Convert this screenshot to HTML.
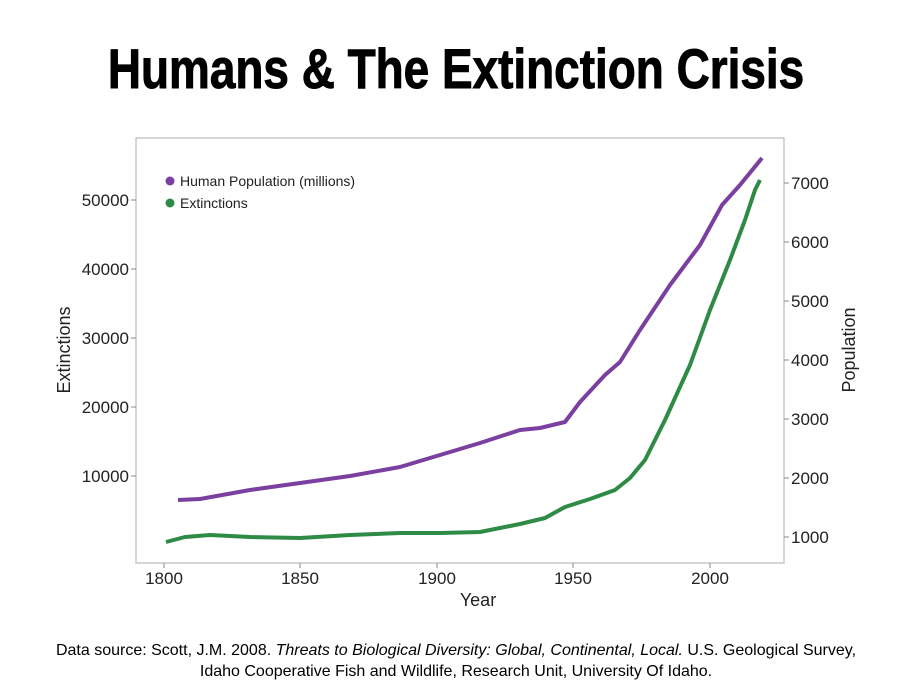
<!DOCTYPE html><html><head><style>body{margin:0;background:#fff;width:913px;height:690px;overflow:hidden}</style></head><body>
<svg width="913" height="690" xmlns="http://www.w3.org/2000/svg" font-family="Liberation Sans, sans-serif">
<text x="456" y="88" text-anchor="middle" font-size="56" font-weight="bold" transform="translate(456,0) scale(0.82,1) translate(-456,0)" fill="#000" stroke="#000" stroke-width="1">Humans &amp; The Extinction Crisis</text>
<rect x="136" y="138" width="648" height="425" fill="none" stroke="#bbb" stroke-width="1.2"/>
<g font-size="17" fill="#222" text-anchor="end">
<line x1="131" y1="200" x2="136" y2="200" stroke="#888"/><text x="129" y="206">50000</text>
<line x1="131" y1="269" x2="136" y2="269" stroke="#888"/><text x="129" y="275">40000</text>
<line x1="131" y1="338" x2="136" y2="338" stroke="#888"/><text x="129" y="344">30000</text>
<line x1="131" y1="407" x2="136" y2="407" stroke="#888"/><text x="129" y="413">20000</text>
<line x1="131" y1="476" x2="136" y2="476" stroke="#888"/><text x="129" y="482">10000</text>
</g>
<g font-size="17" fill="#222">
<line x1="784" y1="183" x2="789" y2="183" stroke="#888"/><text x="791" y="189">7000</text>
<line x1="784" y1="242" x2="789" y2="242" stroke="#888"/><text x="791" y="248">6000</text>
<line x1="784" y1="301" x2="789" y2="301" stroke="#888"/><text x="791" y="307">5000</text>
<line x1="784" y1="360" x2="789" y2="360" stroke="#888"/><text x="791" y="366">4000</text>
<line x1="784" y1="419" x2="789" y2="419" stroke="#888"/><text x="791" y="425">3000</text>
<line x1="784" y1="478" x2="789" y2="478" stroke="#888"/><text x="791" y="484">2000</text>
<line x1="784" y1="537" x2="789" y2="537" stroke="#888"/><text x="791" y="543">1000</text>
</g>
<g font-size="17" fill="#222" text-anchor="middle">
<line x1="164" y1="563" x2="164" y2="568" stroke="#888"/><text x="164" y="584">1800</text>
<line x1="300" y1="563" x2="300" y2="568" stroke="#888"/><text x="300" y="584">1850</text>
<line x1="437" y1="563" x2="437" y2="568" stroke="#888"/><text x="437" y="584">1900</text>
<line x1="573" y1="563" x2="573" y2="568" stroke="#888"/><text x="573" y="584">1950</text>
<line x1="710" y1="563" x2="710" y2="568" stroke="#888"/><text x="710" y="584">2000</text>
<text x="478" y="606" font-size="18">Year</text>
<text transform="translate(70,350) rotate(-90)" font-size="18">Extinctions</text>
<text transform="translate(855,350) rotate(-90)" font-size="18">Population</text>
</g>
<circle cx="170" cy="181" r="4.5" fill="#7b3fa0"/><text x="180" y="186" font-size="14" fill="#222">Human Population (millions)</text>
<circle cx="170" cy="203" r="4.5" fill="#2e8b45"/><text x="180" y="208" font-size="14" fill="#222">Extinctions</text>
<polyline fill="none" stroke="#7b3fa0" stroke-width="4" stroke-linejoin="round" points="178,500 200,499 250,490 300,483 350,476 400,467 440,455 480,443 520,430 540,428 565,422 580,402 605,375 620,362 640,330 670,285 700,245 722,205 740,185 762,158"/>
<polyline fill="none" stroke="#2e8b45" stroke-width="4" stroke-linejoin="round" points="166,542 185,537 210,535 250,537 300,538 350,535 400,533 440,533 480,532 520,524 545,518 565,507 590,499 615,490 630,478 645,460 665,420 690,365 710,310 730,260 745,220 755,190 760,180"/>
<text x="456" y="655" text-anchor="middle" font-size="16" fill="#000">Data source: Scott, J.M. 2008. <tspan font-style="italic">Threats to Biological Diversity: Global, Continental, Local.</tspan> U.S. Geological Survey,</text>
<text x="456" y="676" text-anchor="middle" font-size="16" fill="#000">Idaho Cooperative Fish and Wildlife, Research Unit, University Of Idaho.</text>
</svg>
</body></html>
